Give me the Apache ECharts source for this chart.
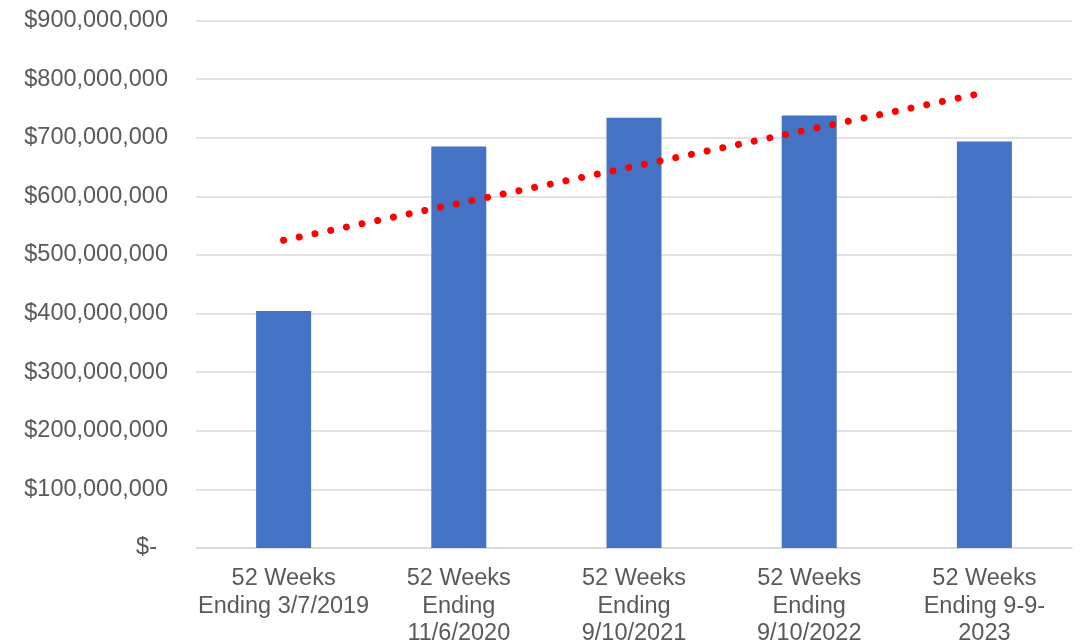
<!DOCTYPE html>
<html>
<head>
<meta charset="utf-8">
<script src="https://cdn.jsdelivr.net/npm/echarts@6/dist/echarts.min.js"></script>
<style>
  html, body { margin: 0; padding: 0; background: #ffffff; }
  #chart { width: 1081px; height: 641px; }
</style>
</head>
<body>
<div id="chart"></div>
<script>
// Periods shown on the category axis
const periods = [
  '52 Weeks\nEnding 3/7/2019',
  '52 Weeks\nEnding\n11/6/2020',
  '52 Weeks\nEnding\n9/10/2021',
  '52 Weeks\nEnding\n9/10/2022',
  '52 Weeks\nEnding 9-9-\n2023'
];

// Sales for each 52-week period (USD)
const sales = [404500000, 685000000, 734000000, 738000000, 693700000];

// Linear trend line: values at the first and last period, joined straight
const trend = [525000000, null, null, null, 777000000];

// Value axis ticks
const axisMin = 0;
const axisMax = 900000000;
const axisStep = 100000000;

const textColor = '#595959';
const fontFamily = 'Liberation Sans, Arial, sans-serif';
const fontSize = 23.5;

function money(v) {
  if (v === 0) return '$-';
  return '$' + v.toLocaleString('en-US');
}

const chart = echarts.init(document.getElementById('chart'), null, { renderer: 'canvas' });

chart.setOption({
  animation: false,
  backgroundColor: '#ffffff',
  grid: {
    left: 196, right: 9, top: 20.5, bottom: 93,
    containLabel: false,
    outerBoundsMode: 'none'
  },
  xAxis: {
    type: 'category',
    data: periods,
    axisLine: { show: true, lineStyle: { color: '#D9D9D9', width: 1.5 } },
    axisTick: { show: false },
    axisLabel: {
      color: textColor,
      fontFamily: fontFamily,
      fontSize: fontSize,
      lineHeight: 27.5,
      margin: 17,
      interval: 0
    }
  },
  yAxis: {
    type: 'value',
    min: axisMin,
    max: axisMax,
    interval: axisStep,
    axisLine: { show: false },
    axisTick: { show: false },
    splitLine: { lineStyle: { color: '#D9D9D9', width: 1.5 } },
    axisLabel: {
      color: textColor,
      fontFamily: fontFamily,
      fontSize: fontSize,
      margin: 28,
      formatter: function (v) {
        return v === 0 ? '{z|' + money(v) + '}' : money(v);
      },
      rich: {
        z: { color: textColor, fontFamily: fontFamily, fontSize: fontSize, padding: [0, 11, 0, 0] }
      }
    }
  },
  series: [
    {
      name: 'Sales',
      type: 'bar',
      data: sales,
      barWidth: 55,
      itemStyle: { color: '#4472C4' }
    },
    {
      name: 'Linear trend',
      type: 'line',
      data: trend,
      connectNulls: true,
      symbol: 'none',
      z: 3,
      lineStyle: {
        color: '#FF0000',
        width: 7,
        type: [0.01, 16.02],
        cap: 'round'
      }
    }
  ]
});
</script>
</body>
</html>
